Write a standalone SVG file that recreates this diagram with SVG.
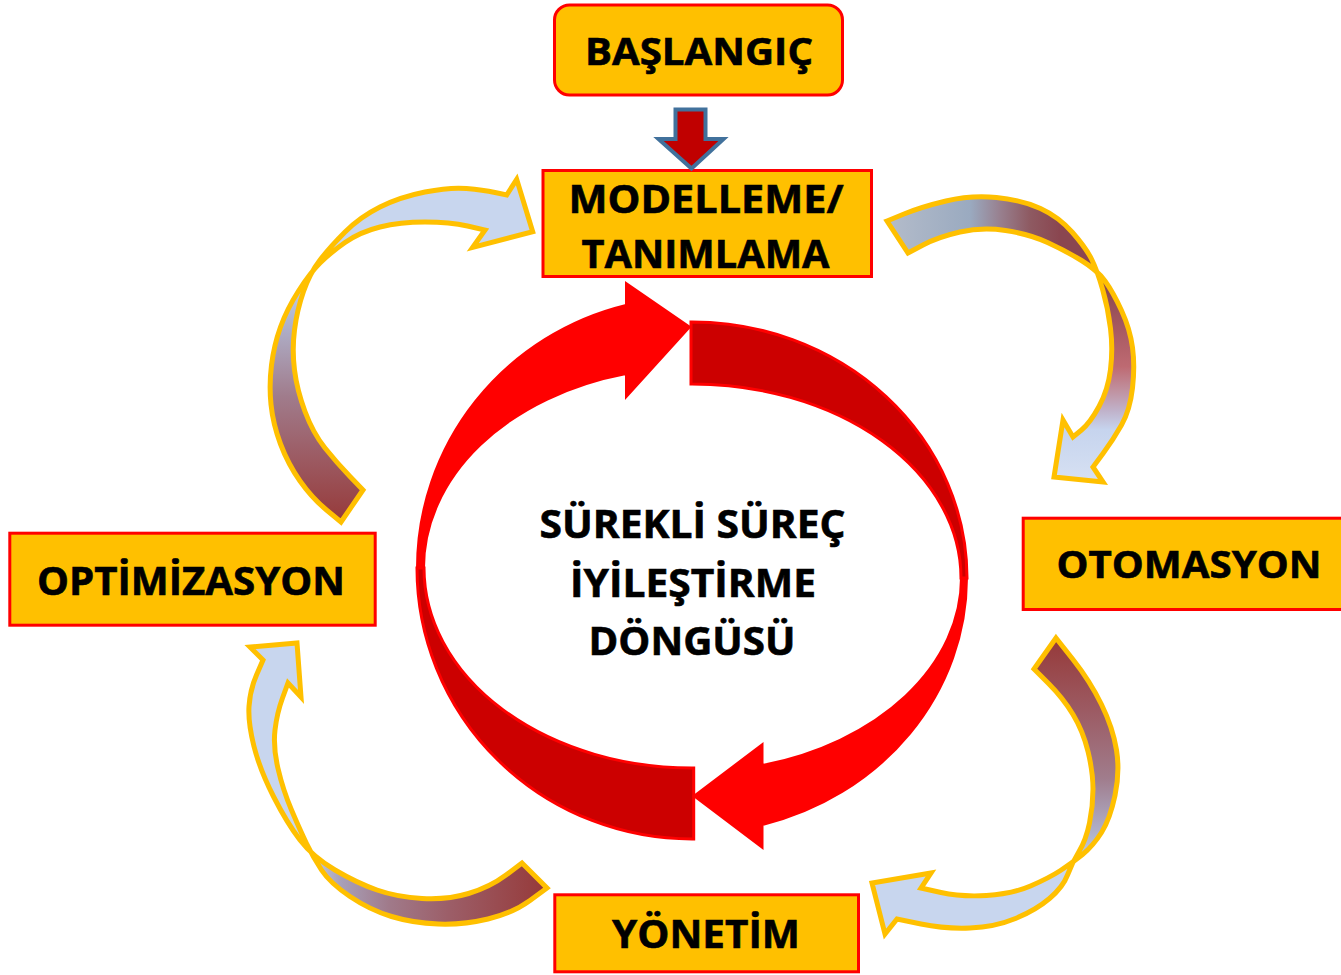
<svg xmlns="http://www.w3.org/2000/svg" width="1341" height="975" viewBox="0 0 1341 975">
  <defs>
    <style>
      .box{fill:#FFC000;stroke:#FF0000;stroke-width:3}
      .lbl{font-family:"Open Sans","Liberation Sans",sans-serif;font-weight:700;fill:#000;stroke:#000;stroke-width:0.6;text-anchor:middle}
      .cv{fill:none;stroke:#FFC000;stroke-width:5;stroke-linejoin:miter}
      .front{fill:#FF0000;stroke:#FF0000;stroke-width:2}
      .back{fill:#CC0000;stroke:#FF0000;stroke-width:3}
    </style>
    <!-- curved arrow fills: dark red tail fading to pale blue head -->
    <linearGradient id="gLT" gradientUnits="userSpaceOnUse" x1="0" y1="522" x2="0" y2="270">
      <stop offset="0" stop-color="#963A3A"/>
      <stop offset="0.25" stop-color="#9C5A62"/>
      <stop offset="0.5" stop-color="#A07C8C"/>
      <stop offset="0.8" stop-color="#B0B4CE"/>
      <stop offset="1" stop-color="#C8D6EE"/>
    </linearGradient>
    <linearGradient id="gBR" gradientUnits="userSpaceOnUse" x1="0" y1="640" x2="0" y2="870">
      <stop offset="0" stop-color="#963A3A"/>
      <stop offset="0.3" stop-color="#9C5A62"/>
      <stop offset="0.6" stop-color="#A07C8C"/>
      <stop offset="0.85" stop-color="#B0B4CE"/>
      <stop offset="1" stop-color="#C8D6EE"/>
    </linearGradient>
    <linearGradient id="gBL" gradientUnits="userSpaceOnUse" x1="545" y1="0" x2="305" y2="0">
      <stop offset="0" stop-color="#963A3A"/>
      <stop offset="0.4" stop-color="#9C5E68"/>
      <stop offset="0.65" stop-color="#A07A8A"/>
      <stop offset="0.85" stop-color="#A8A0B8"/>
      <stop offset="1" stop-color="#C8D6EE"/>
    </linearGradient>
    <linearGradient id="gTR1" gradientUnits="userSpaceOnUse" x1="887" y1="0" x2="1100" y2="0">
      <stop offset="0" stop-color="#B4BCCA"/>
      <stop offset="0.39" stop-color="#9AAAC0"/>
      <stop offset="0.53" stop-color="#98808F"/>
      <stop offset="0.67" stop-color="#8E5A62"/>
      <stop offset="0.81" stop-color="#8A4650"/>
      <stop offset="1" stop-color="#8A4650"/>
    </linearGradient>
    <linearGradient id="gTR2" gradientUnits="userSpaceOnUse" x1="0" y1="270" x2="0" y2="480">
      <stop offset="0" stop-color="#8A4650"/>
      <stop offset="0.1" stop-color="#8E4A52"/>
      <stop offset="0.29" stop-color="#A85A62"/>
      <stop offset="0.46" stop-color="#BE6A72"/>
      <stop offset="0.57" stop-color="#C0909E"/>
      <stop offset="0.67" stop-color="#C0B2CA"/>
      <stop offset="0.76" stop-color="#C6D4EE"/>
      <stop offset="1" stop-color="#D6E0F2"/>
    </linearGradient>
    <clipPath id="clipUpper"><polygon points="2037,-200 -163,900 -500,900 -500,-200"/></clipPath>
    <clipPath id="clipLower"><polygon points="2037,-200 2500,-200 2500,900 -163,900"/></clipPath>
    <!-- twisted curved arrow, OTOMASYON side -->
    <path id="trShape" d="M887,221 L904,214 Q921,207 946,201 Q971,195 996.5,197.5 Q1022,200 1040.5,208.5 Q1059,217 1072.5,232.5 Q1086,248 1091.5,259 Q1097,270 1102.5,289 Q1108,308 1110.5,328.5 Q1113,349 1110.5,369.5 Q1108,390 1099,406.5 Q1090,423 1081.5,430 L1073,437 L1063,420 L1054,477 L1103,482 L1093,467 L1103,453.5 Q1113,440 1121.5,425 Q1130,410 1132.5,388 Q1135,366 1132.5,347.5 Q1130,329 1121.5,310.5 Q1113,292 1105,281 Q1097,270 1081.5,260.5 Q1066,251 1047.5,242.5 Q1029,234 1005.5,230.5 Q982,227 960,232 Q938,237 923,245 L908,253 Z"/>
  </defs>

  <rect width="1341" height="975" fill="#FFFFFF"/>

  <g id="connectors">
    <!-- central improvement loop: two ribbon arrows -->
    <g id="loop-left">
      <path class="back" d="M417,568 A275,271 0 0 0 693.7,839 L693.7,768 A268,200 0 0 1 424,568 Z"/>
      <path class="front" d="M417,568 A275,271 0 0 1 626,305 L626,283 L690,327 L626,397.5 L626,374 A268,200 0 0 0 424,568 Z"/>
    </g>
    <g id="loop-right">
      <path class="back" d="M691,322 A275,256 0 0 1 967,578 L961,578 A269,194 0 0 0 691,384 Z"/>
      <path class="front" d="M967,578 A275,256 0 0 1 762.5,825 L762.5,848 L693.7,796 L762.5,744 L762.5,765 A269,194 0 0 0 961,578 Z"/>
    </g>

    <!-- MODELLEME -> OTOMASYON -->
    <g id="arrow-model-auto">
      <use href="#trShape" fill="url(#gTR1)" clip-path="url(#clipUpper)"/>
      <use href="#trShape" fill="url(#gTR2)" clip-path="url(#clipLower)"/>
      <use href="#trShape" class="cv"/>
    </g>

    <!-- OTOMASYON -> YÖNETİM -->
    <path id="arrow-auto-mgmt" class="cv" style="fill:url(#gBR)" d="M1056,638 L1073,659.5 Q1090,681 1101.5,704.5 Q1113,728 1116.5,750 Q1120,772 1115,795.5 Q1110,819 1101.5,832.5 Q1093,846 1082.5,854.5 Q1072,863 1060.5,870.5 Q1049,878 1030.5,886 Q1012,894 986.5,895.5 Q961,897 941,892.5 L921,888 L931,873 L872,883 L885,934 L897,919 L921,924 Q945,929 970,928 Q995,927 1015.5,918.5 Q1036,910 1049.5,898.5 Q1063,887 1067.5,875 Q1072,863 1079,851.5 Q1086,840 1089.5,823 Q1093,806 1093,789 Q1093,772 1088,751.5 Q1083,731 1073,714.5 Q1063,698 1048.5,683.5 L1034,669 Z"/>

    <!-- YÖNETİM -> OPTİMİZASYON -->
    <path id="arrow-mgmt-opt" class="cv" style="fill:url(#gBL)" d="M522,863 L506,875 Q490,887 468.5,893.5 Q447,900 422,898.5 Q397,897 377,890 Q357,883 335,870 Q313,857 300,840 Q287,823 273.5,796.5 Q260,770 254,746.5 Q248,723 249,706.5 Q250,690 256.5,675 L263,660 L250,647 L297,643 L301,697 L288,683 L282.5,698 Q277,713 275,730 Q273,747 278,768.5 Q283,790 291.5,810 Q300,830 306.5,843.5 Q313,857 321.5,870 Q330,883 350,896.5 Q370,910 391.5,916.5 Q413,923 438,924 Q463,925 488,919 Q513,913 530,900.5 L547,888 Z"/>

    <!-- OPTİMİZASYON -> MODELLEME -->
    <path id="arrow-opt-model" class="cv" style="fill:url(#gLT)" d="M341,522 L326.5,510 Q312,498 300,481 Q288,464 280.5,444 Q273,424 271,404.5 Q269,385 271.5,365 Q274,345 280.5,327 Q287,309 298.5,291 Q310,273 320,263 Q330,253 345,242.5 Q360,232 380,227 Q400,222 425,222 Q450,222 467.5,226 L485,230 L472.7,247.3 L532.7,231.7 L516.7,179.3 L506.7,195 L495,192.5 Q483,190 466.5,188.5 Q450,187 425,192 Q400,197 380,207 Q360,217 345,232 Q330,247 320,260 Q310,273 303.5,291.5 Q297,310 294.5,330 Q292,350 294.5,370 Q297,390 305,411.5 Q313,433 325,448 Q337,463 350,476.5 L363,490 Z"/>
  </g>

  <g id="node-start">
    <rect class="box" x="554.5" y="5" width="288" height="90" rx="15" ry="15"/>
    <text class="lbl" x="699" y="65" font-size="37" textLength="228" lengthAdjust="spacingAndGlyphs">BAŞLANGIÇ</text>
  </g>

  <g id="node-modelling">
    <rect class="box" x="543" y="170.5" width="328.5" height="106"/>
    <text class="lbl" x="706" y="213" font-size="39" textLength="275" lengthAdjust="spacingAndGlyphs">MODELLEME/</text>
    <text class="lbl" x="705.5" y="268" font-size="39" textLength="248" lengthAdjust="spacingAndGlyphs">TANIMLAMA</text>
  </g>

  <!-- BAŞLANGIÇ -> MODELLEME block arrow -->
  <path id="arrow-start" d="M675.5,109.5 L705.5,109.5 L705.5,139 L723.5,139 L691.5,168.5 L658.5,139 L675.5,139 Z" fill="#C00000" stroke="#41719C" stroke-width="4" stroke-linejoin="miter"/>

  <g id="node-automation">
    <rect class="box" x="1023.2" y="518.2" width="400" height="91.3"/>
    <text class="lbl" x="1189" y="578" font-size="37" textLength="265" lengthAdjust="spacingAndGlyphs">OTOMASYON</text>
  </g>

  <g id="node-optimization">
    <rect class="box" x="9.8" y="533.2" width="365.4" height="92"/>
    <text class="lbl" x="191" y="595" font-size="39" textLength="308" lengthAdjust="spacingAndGlyphs">OPTİMİZASYON</text>
  </g>

  <g id="node-management">
    <rect class="box" x="554.8" y="894.8" width="303.7" height="77"/>
    <text class="lbl" x="706" y="948" font-size="39" textLength="188" lengthAdjust="spacingAndGlyphs">YÖNETİM</text>
  </g>

  <g id="cycle-label">
    <text class="lbl" x="692.5" y="538" font-size="39" textLength="306" lengthAdjust="spacingAndGlyphs">SÜREKLİ SÜREÇ</text>
    <text class="lbl" x="693" y="597" font-size="39" textLength="246" lengthAdjust="spacingAndGlyphs">İYİLEŞTİRME</text>
    <text class="lbl" x="692" y="655" font-size="39" textLength="207" lengthAdjust="spacingAndGlyphs">DÖNGÜSÜ</text>
  </g>
</svg>
